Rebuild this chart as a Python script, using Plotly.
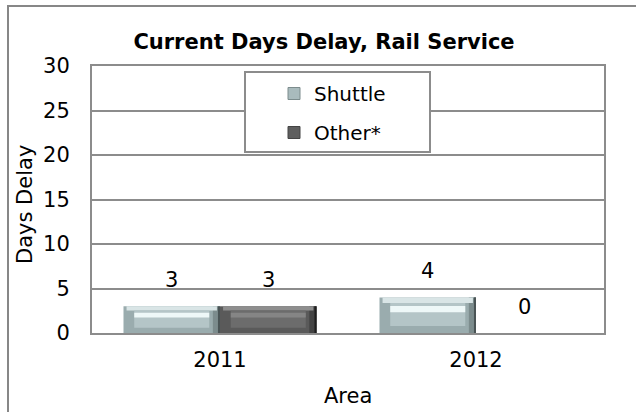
import plotly.graph_objects as go

# Chart data
years = ["2011", "2012"]
shuttle = [3, 4]
other = [3, 0]
series_names = ["Shuttle", "Other*"]
y_ticks = [0, 5, 10, 15, 20, 25, 30]

FONT = "DejaVu Sans"
GRID = "#8c8c8c"

W = 636
H = 412
L, R, T, B = 92, 32, 66, 79
plot_w = W - L - R
plot_h = H - T - B

bar_w = 0.377          # width of one bar in category units
inset_x = 0.042        # horizontal bevel inset
right_w = 0.028        # width of the shaded right-hand bevel
fig = go.Figure()


def layer(values, lo, hi, offset, width, color, name):
    fig.add_trace(go.Bar(
        x=years, y=[v * (hi - lo) for v in values], base=[v * lo for v in values],
        offset=offset, width=width,
        marker=dict(color=color, line=dict(width=0)),
        legendgroup=name, showlegend=False, hoverinfo="skip",
    ))


def bevel_bar(values, offset, name, side, right, edge, top, face, shine, legend_color):
    # outer body (left / bottom bevel)
    fig.add_trace(go.Bar(
        x=years, y=values, name=name, offset=offset, width=bar_w,
        marker=dict(color=side, line=dict(width=0)),
        legendgroup=name, showlegend=False, hoverinfo="skip",
    ))
    # shaded right-hand bevel with a dark outer edge
    layer(values, 0.0, 1.0, offset + bar_w - right_w, right_w, right, name)
    layer(values, 0.0, 1.0, offset + bar_w - 0.008, 0.008, edge, name)
    # lighter top bevel
    layer(values, 0.84, 1.0, offset + 0.012, bar_w - 0.024, top, name)
    # front face
    layer(values, 0.2, 0.84, offset + inset_x, bar_w - 2 * inset_x, face, name)
    # glossy streak across the face
    layer(values, 0.58, 0.76, offset + inset_x, bar_w - 2 * inset_x, shine, name)
    # legend entry
    fig.add_trace(go.Bar(
        x=[None], y=[None], name=name,
        marker=dict(color=legend_color, line=dict(color=right, width=1)),
        legendgroup=name, showlegend=True, hoverinfo="skip",
    ))


bevel_bar(shuttle, -bar_w, series_names[0],
          side="#9aacae", right="#7c8c8d", edge="#4a5455", top="#d9e5e6", face="#b4c5c7",
          shine="#eef8f8", legend_color="#a9bbbd")
bevel_bar(other, 0.0, series_names[1],
          side="#5a5a5a", right="#444444", edge="#1e1e1e", top="#8e8e8e", face="#6c6c6c",
          shine="#858585", legend_color="#5e5e5e")

# value labels above each bar
label_font = dict(family=FONT, size=21, color="#000")
annotations = []
for i, v in enumerate(shuttle):
    annotations.append(dict(x=i - bar_w / 2, y=v, xref="x", yref="y", text=str(v),
                            showarrow=False, yshift=26, font=label_font))
for i, v in enumerate(other):
    annotations.append(dict(x=i + bar_w / 2, y=v, xref="x", yref="y", text=str(v),
                            showarrow=False, yshift=26, font=label_font))

# axis titles
annotations.append(dict(x=(25 - L) / plot_w, y=(H - B - 205) / plot_h, xref="paper", yref="paper",
                        xanchor="center", yanchor="middle",
                        text="Days Delay", textangle=-90, showarrow=False, font=label_font))
annotations.append(dict(x=(348 - L) / plot_w, y=(H - B - 396) / plot_h, xref="paper", yref="paper",
                        xanchor="center", yanchor="middle",
                        text="Area", showarrow=False, font=label_font))

shapes = [
    # chart area border
    dict(type="rect", xref="paper", yref="paper",
         x0=(8 - L) / plot_w, x1=(650 - L) / plot_w,
         y0=(H - B - 440) / plot_h, y1=(H - B - 6) / plot_h,
         line=dict(color="#878787", width=2), fillcolor="rgba(0,0,0,0)", layer="below"),
    # legend box
    dict(type="rect", xref="paper", yref="paper",
         x0=(245 - L) / plot_w, x1=(430 - L) / plot_w,
         y0=(H - B - 152) / plot_h, y1=(H - B - 72) / plot_h,
         line=dict(color="#8c8c8c", width=2), fillcolor="#ffffff", layer="above"),
]

fig.update_layout(
    width=W, height=H,
    margin=dict(l=L, r=R, t=T, b=B),
    paper_bgcolor="#ffffff", plot_bgcolor="#ffffff",
    barmode="overlay",
    font=dict(family=FONT, size=21, color="#000"),
    title=dict(text="<b>Current Days Delay, Rail Service</b>", xref="paper", x=(324 - L) / plot_w,
               xanchor="center", yref="container", y=1 - 42 / H, yanchor="middle",
               font=dict(family=FONT, size=21, color="#000")),
    showlegend=True,
    legend=dict(x=(274 - L) / plot_w, y=(H - B - 74) / plot_h, xanchor="left", yanchor="top",
                bgcolor="rgba(0,0,0,0)", borderwidth=0, traceorder="grouped",
                tracegroupgap=10, itemwidth=30,
                font=dict(family=FONT, size=20, color="#000")),
    annotations=annotations,
    shapes=shapes,
    xaxis=dict(type="category", categoryorder="array", categoryarray=years,
               range=[-0.5, 1.5], showline=True, mirror=True, linecolor=GRID, linewidth=2,
               showgrid=False, ticks="", ticklabelstandoff=7,
               tickfont=label_font),
    yaxis=dict(range=[0, 30], tickvals=y_ticks, showline=True, mirror=True,
               linecolor=GRID, linewidth=2, showgrid=True, gridcolor=GRID, gridwidth=2,
               zeroline=False, ticks="", ticklabelstandoff=16,
               tickfont=label_font),
)

fig.write_html("out.html")
